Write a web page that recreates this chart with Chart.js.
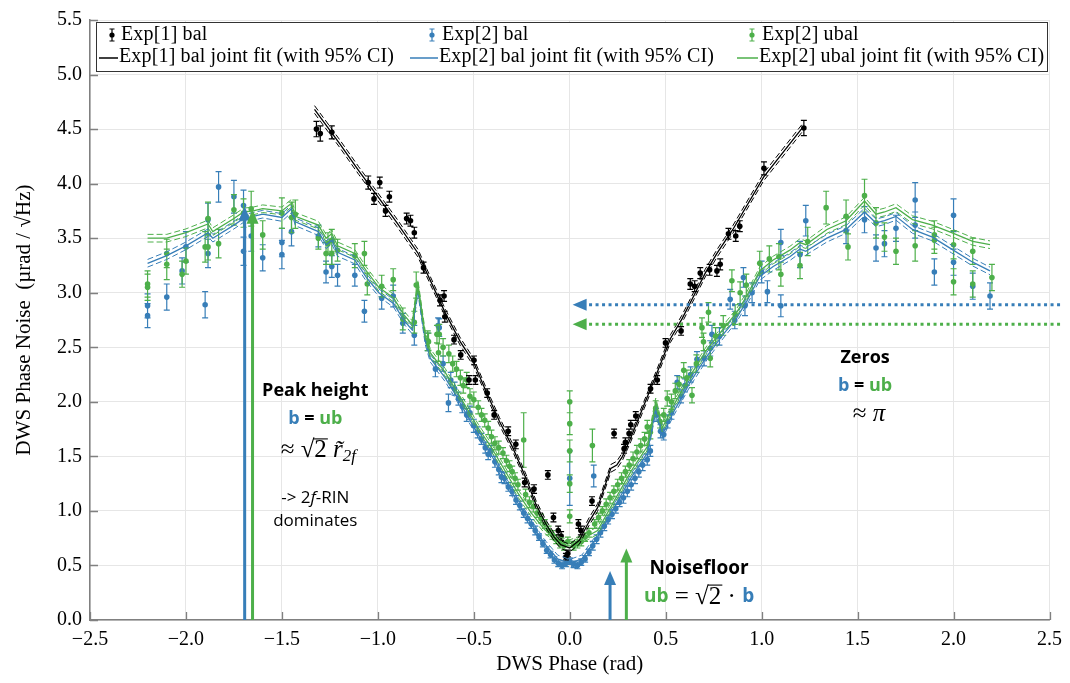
<!DOCTYPE html>
<html>
<head>
<meta charset="utf-8">
<script src="https://cdn.jsdelivr.net/npm/chart.js@4/dist/chart.umd.min.js"></script>
<style>
  html, body { margin: 0; padding: 0; background: #fff; }
  #wrap { width: 1070px; height: 683px; }
</style>
</head>
<body>
<div id="wrap"><canvas id="chart" width="1070" height="683"></canvas></div>
<script>
// axis ranges
const xRange = [-2.5, 2.5];
const yRange = [0, 5.5];

// Exp[1] bal: [phase, noise, error]
const exp1Bal = [
  [-1.32,4.50,.07],[-1.30,4.46,.07],[-1.24,4.47,.06],[-1.05,4.01,.06],[-1.02,3.86,.05],[-0.99,4.01,.05],
  [-0.96,3.75,.05],[-0.94,3.88,.05],[-0.85,3.68,.05],[-0.83,3.66,.05],[-0.81,3.55,.05],[-0.762,3.23,.05],
  [-0.676,2.93,.05],[-0.655,2.97,.05],[-0.651,2.78,.05],[-0.603,2.57,.04],[-0.568,2.43,.04],[-0.499,2.38,.04],
  [-0.525,2.20,.04],[-0.492,2.20,.04],[-0.43,2.08,.04],[-0.394,1.88,.04],[-0.321,1.73,.04],[-0.281,1.61,.04],
  [-0.235,1.26,.04],[-0.186,1.20,.04],[-0.114,1.33,.04],[-0.085,0.94,.04],[-0.06,0.82,.04],[-0.045,0.77,.04],
  [-0.02,0.58,.03],[-0.01,0.61,.03],[0.045,0.88,.04],[0.058,0.82,.04],[0.116,1.09,.04],[0.231,1.71,.04],
  [0.283,1.57,.04],[0.29,1.63,.04],[0.309,1.71,.04],[0.318,1.79,.04],[0.344,1.87,.04],[0.421,2.12,.04],
  [0.456,2.20,.04],[0.499,2.54,.04],[0.58,2.65,.04],[0.628,3.08,.05],[0.651,3.06,.05],[0.68,3.18,.05],
  [0.729,3.21,.05],[0.767,3.20,.05],[0.784,3.26,.05],[0.827,3.54,.05],[0.865,3.52,.05],[0.886,3.61,.05],
  [1.012,4.14,.06],[1.22,4.51,.07]
];

// Exp[2] bal
const exp2Bal = [
  [-2.20,2.79,.11],[-2.20,2.88,.11],[-2.10,2.96,.12],[-2.02,3.20,.12],[-2.00,3.42,.14],[-1.90,2.89,.12],
  [-1.885,3.67,.15],[-1.885,3.36,.13],[-1.83,3.97,.14],[-1.75,3.88,.15],[-1.70,3.80,.14],[-1.70,3.38,.13],
  [-1.66,3.52,.14],[-1.60,3.32,.12],[-1.50,3.35,.13],[-1.50,3.46,.13],[-1.45,3.56,.13],[-1.31,3.52,.10],
  [-1.27,3.19,.10],[-1.24,3.24,.10],[-1.21,3.16,.10],[-1.12,3.16,.10],[-1.07,2.83,.10],[-0.98,2.95,.10],
  [-0.92,2.97,.10],[-0.87,2.72,.09],[-0.81,2.61,.09],[-0.74,2.55,.08],[-0.68,2.68,.08],
  [-0.686,2.70,.07],[-0.70,2.30,.07],[-0.66,2.35,.07],[-0.632,1.99,.08],[-0.62,2.20,.07],[-0.60,2.12,.06],
  [-0.58,2.03,.06],[-0.56,1.96,.06],[-0.537,1.88,.06],[-0.52,1.90,.06],[-0.50,1.78,.06],[-0.48,1.72,.05],
  [-0.46,1.66,.05],[-0.44,1.58,.05],[-0.425,1.52,.05],[-0.41,1.55,.05],[-0.39,1.45,.05],[-0.37,1.38,.05],
  [-0.356,1.31,.05],[-0.34,1.30,.05],[-0.32,1.22,.04],[-0.30,1.18,.04],[-0.28,1.10,.04],[-0.26,1.05,.04],
  [-0.24,0.98,.04],[-0.22,0.93,.04],[-0.20,0.88,.04],[-0.18,0.82,.04],[-0.16,0.76,.03],[-0.14,0.70,.03],
  [-0.12,0.64,.03],[-0.10,0.60,.03],[-0.08,0.55,.03],[-0.06,0.52,.03],[-0.04,0.50,.03],[-0.02,0.52,.03],
  [0.00,0.54,.03],[0.00,1.30,.25],
  [0.02,0.51,.03],[0.04,0.50,.03],[0.06,0.53,.03],[0.08,0.56,.03],[0.10,0.62,.03],[0.12,0.68,.04],
  [0.125,1.32,.10],[0.14,0.74,.04],[0.16,0.80,.04],[0.18,0.86,.04],[0.20,0.92,.04],[0.22,0.97,.04],
  [0.24,1.02,.04],[0.26,1.08,.04],[0.28,1.12,.05],[0.30,1.18,.05],[0.32,1.24,.05],[0.34,1.30,.05],
  [0.36,1.36,.05],[0.38,1.42,.05],[0.404,1.47,.05],[0.42,1.55,.05],[0.45,1.88,.06],[0.473,1.73,.06],
  [0.49,1.70,.05],[0.51,1.82,.06],[0.53,1.90,.06],[0.56,2.18,.06],[0.58,2.05,.06],[0.60,2.15,.06],
  [0.63,2.25,.07],[0.663,2.39,.07],[0.70,2.40,.07],[0.732,2.49,.07],[0.741,2.62,.08],[0.78,2.60,.08],
  [0.836,2.94,.09],[0.86,2.75,.08],[0.905,3.14,.09],[0.913,2.88,.09],[0.95,3.00,.09],[1.00,3.19,.10],
  [1.03,3.01,.10],[1.10,3.46,.12],[1.10,2.88,.10],[1.20,3.35,.12],[1.23,3.66,.14],[1.44,3.57,.12],
  [1.536,3.67,.12],[1.596,3.41,.12],[1.64,3.45,.12],[1.70,3.59,.12],[1.80,3.85,.16],[1.80,3.62,.12],
  [1.90,3.19,.12],[2.00,3.71,.15],[2.00,3.28,.12],[2.10,3.06,.12],[2.19,2.97,.12]
];

// Exp[2] ubal
const exp2Ubal = [
  [-2.20,3.08,.12],[-2.20,3.05,.12],[-2.10,3.26,.14],[-2.10,3.36,.13],[-2.02,3.17,.12],[-2.00,3.29,.12],
  [-1.90,3.42,.14],[-1.885,3.68,.15],[-1.885,3.42,.12],[-1.83,3.45,.13],[-1.75,3.76,.14],[-1.70,3.73,.13],
  [-1.66,3.77,.16],[-1.60,3.53,.13],[-1.50,3.73,.14],[-1.45,3.69,.14],[-1.43,3.72,.13],[-1.31,3.50,.10],
  [-1.27,3.36,.10],[-1.26,3.45,.10],[-1.24,3.48,.10],[-1.24,3.36,.10],[-1.21,3.39,.10],[-1.12,3.34,.11],
  [-1.07,3.36,.11],[-1.055,3.08,.10],[-0.98,3.06,.10],[-0.92,3.12,.10],[-0.87,2.76,.10],[-0.81,2.73,.10],
  [-0.80,3.07,.12],[-0.74,2.56,.09],[-0.68,2.62,.09],
  [-0.736,2.55,.08],[-0.692,2.62,.08],[-0.684,2.45,.08],[-0.66,2.50,.08],[-0.63,2.44,.08],[-0.61,2.35,.07],
  [-0.59,2.30,.07],[-0.57,2.22,.07],[-0.555,2.15,.07],[-0.537,2.20,.07],[-0.52,2.05,.07],[-0.50,2.02,.07],
  [-0.477,1.95,.06],[-0.46,1.88,.06],[-0.443,1.83,.06],[-0.425,1.76,.06],[-0.408,1.68,.06],[-0.39,1.62,.06],
  [-0.37,1.58,.06],[-0.348,1.53,.05],[-0.33,1.46,.05],[-0.314,1.41,.05],[-0.30,1.36,.05],[-0.285,1.30,.05],
  [-0.27,1.24,.05],[-0.24,1.65,.25],[-0.23,1.15,.05],[-0.21,1.08,.05],[-0.19,1.04,.05],[-0.17,0.98,.04],
  [-0.15,0.93,.04],[-0.13,0.88,.04],[-0.11,0.82,.04],[-0.09,0.78,.04],[-0.07,0.74,.04],[-0.05,0.70,.04],
  [-0.03,0.68,.04],[-0.01,0.72,.04],[0.00,2.00,.10],[0.00,1.80,.10],[0.00,1.55,.10],[0.00,1.25,.08],
  [0.00,0.95,.06],
  [0.02,0.68,.04],[0.04,0.70,.04],[0.06,0.72,.04],[0.08,0.76,.04],[0.10,0.80,.04],[0.118,1.60,.15],
  [0.13,0.88,.04],[0.15,0.94,.04],[0.17,1.00,.04],[0.19,1.06,.05],[0.21,1.12,.05],[0.23,1.18,.05],
  [0.25,1.24,.05],[0.27,1.30,.05],[0.29,1.36,.05],[0.31,1.42,.05],[0.33,1.48,.06],[0.35,1.54,.06],
  [0.37,1.60,.06],[0.39,1.66,.06],[0.404,1.77,.06],[0.42,1.72,.06],[0.448,1.94,.07],[0.47,1.82,.06],
  [0.49,1.88,.06],[0.508,2.03,.07],[0.53,2.00,.07],[0.55,2.10,.07],[0.57,2.16,.07],[0.594,2.29,.07],
  [0.61,2.22,.07],[0.637,2.06,.07],[0.66,2.35,.08],[0.689,2.68,.09],[0.697,2.55,.08],[0.723,2.82,.09],
  [0.732,2.40,.08],[0.76,2.60,.08],[0.80,2.70,.09],[0.845,3.11,.10],[0.862,2.80,.09],[0.888,3.00,.10],
  [0.92,3.07,.10],[0.99,3.27,.11],[1.04,3.31,.12],[1.09,3.33,.12],[1.10,3.17,.11],[1.20,3.25,.12],
  [1.24,3.47,.13],[1.336,3.78,.15],[1.44,3.70,.15],[1.45,3.42,.12],[1.536,3.89,.15],[1.596,3.64,.14],
  [1.64,3.51,.13],[1.70,3.38,.12],[1.80,3.43,.14],[1.90,3.53,.13],[1.90,3.48,.12],[2.00,3.44,.13],
  [2.00,3.10,.12],[2.10,3.38,.12],[2.10,3.08,.12],[2.20,3.14,.12]
];

// joint fits [phase, noise]
const exp1Fit = [
  [-1.33,4.68],[-1.20,4.37],[-1.10,4.12],[-1.00,3.88],[-0.90,3.64],[-0.79,3.36],[-0.76,3.24],[-0.65,2.82],
  [-0.57,2.55],[-0.50,2.36],[-0.435,2.09],[-0.366,1.82],[-0.297,1.58],[-0.228,1.30],[-0.176,1.06],
  [-0.124,0.88],[-0.081,0.76],[-0.047,0.69],[0.00,0.66],[0.05,0.73],[0.10,0.90],[0.145,1.03],[0.214,1.39],
  [0.245,1.42],[0.275,1.50],[0.318,1.67],[0.387,1.97],[0.456,2.27],[0.525,2.58],[0.585,2.76],[0.646,2.97],
  [0.706,3.18],[0.767,3.36],[0.85,3.58],[1.01,4.06],[1.216,4.52]
];
const fitPhase2 = [-2.20,-2.10,-2.00,-1.885,-1.86,-1.75,-1.70,-1.65,-1.60,-1.50,-1.45,-1.43,-1.31,-1.27,-1.24,
  -1.21,-1.12,-1.06,-0.995,-0.917,-0.865,-0.822,-0.791,-0.753,-0.727,-0.649,-0.597,-0.546,-0.477,-0.408,
  -0.338,-0.269,-0.20,-0.131,-0.063,0.00,0.063,0.145,0.231,0.318,0.404,0.448,0.482,0.542,0.628,0.715,0.801,
  0.87,0.922,0.99,1.06,1.147,1.20,1.23,1.34,1.44,1.536,1.596,1.64,1.70,1.786,1.89,1.99,2.10,2.19];
const exp2BalFit = [3.27,3.34,3.43,3.55,3.50,3.62,3.68,3.70,3.72,3.69,3.77,3.65,3.56,3.44,3.48,
  3.37,3.30,3.14,3.00,2.90,2.75,2.66,3.03,2.56,2.40,2.22,2.07,1.91,1.70,1.51,
  1.29,1.07,0.88,0.70,0.56,0.52,0.56,0.76,1.03,1.30,1.53,1.94,1.70,1.91,2.18,2.42,2.62,
  2.77,2.92,3.15,3.24,3.33,3.40,3.38,3.50,3.58,3.74,3.64,3.66,3.70,3.58,3.51,3.40,3.28,3.20];
const exp2UbalFit = [3.50,3.50,3.55,3.63,3.56,3.68,3.74,3.75,3.77,3.75,3.82,3.70,3.62,3.50,3.54,
  3.43,3.36,3.20,3.05,2.95,2.80,2.71,3.08,2.61,2.45,2.27,2.12,1.97,1.76,1.58,
  1.37,1.16,0.98,0.83,0.73,0.70,0.74,0.82,1.09,1.36,1.59,2.00,1.76,1.97,2.24,2.48,2.67,
  2.82,2.97,3.20,3.30,3.39,3.46,3.44,3.58,3.66,3.84,3.72,3.74,3.78,3.67,3.62,3.55,3.47,3.44];
// 95% CI half widths
const exp1CI = 0.035;
const exp2BalCI = 0.035;
const exp2UbalCI = 0.035;

// annotation arrows
const peakArrows = [{ x: -1.694, top: 3.79, c: 'blue' }, { x: -1.653, top: 3.76, c: 'green' }];
const zeroArrows = [{ y: 2.89, from: 2.555, tip: 0.015, c: 'blue' }, { y: 2.71, from: 2.555, tip: 0.015, c: 'green' }];
const floorArrows = [{ x: 0.21, top: 0.45, c: 'blue' }, { x: 0.295, top: 0.655, c: 'green' }];

const legendRow1 = ['Exp[1] bal', 'Exp[2] bal', 'Exp[2] ubal'];
const legendRow2 = ['Exp[1] bal joint fit (with 95% CI)', 'Exp[2] bal joint fit (with 95% CI)', 'Exp[2] ubal joint fit (with 95% CI)'];

const COLORS = { black: '#000000', blue: '#377eb8', green: '#4daf4a' };
const SERIF = '"Liberation Serif", "DejaVu Serif", serif';
const SANS = '"Open Sans", "Noto Sans", sans-serif';

const fmt = v => (v < 0 ? '\u2212' : '') + Math.abs(v).toFixed(1);

function pointSet(label, rows, color, order) {
  return {
    label: label,
    type: 'scatter',
    data: rows.map(r => ({ x: r[0], y: r[1] })),
    errs: rows.map(r => r[2]),
    barColor: color,
    backgroundColor: color,
    borderWidth: 0,
    pointRadius: 2.8,
    order: order
  };
}

function fitSets(label, xs, ys, ci, color, order) {
  const mk = (off, dash, w) => ({
    label: label,
    type: 'line',
    data: xs.map((x, i) => ({ x: x, y: ys[i] + off })),
    borderColor: color,
    borderWidth: w,
    borderDash: dash,
    pointRadius: 0,
    fill: false,
    tension: 0,
    order: order
  });
  return [mk(0, [], 1.3), mk(ci, [6, 3], 1), mk(-ci, [6, 3], 1)];
}

const errorBarPlugin = {
  id: 'errorBars',
  beforeDatasetDraw(chart, args) {
    const ds = chart.data.datasets[args.index];
    if (!ds.errs) return;
    const { ctx, chartArea, scales: { x, y } } = chart;
    ctx.save();
    ctx.beginPath();
    ctx.rect(chartArea.left, chartArea.top, chartArea.width, chartArea.height);
    ctx.clip();
    ctx.strokeStyle = ds.barColor;
    ctx.lineWidth = 1.2;
    ctx.beginPath();
    ds.data.forEach((p, i) => {
      const e = ds.errs[i];
      const px = x.getPixelForValue(p.x);
      const y1 = y.getPixelForValue(p.y - e);
      const y2 = y.getPixelForValue(p.y + e);
      ctx.moveTo(px, y1); ctx.lineTo(px, y2);
      ctx.moveTo(px - 3, y1); ctx.lineTo(px + 3, y1);
      ctx.moveTo(px - 3, y2); ctx.lineTo(px + 3, y2);
    });
    ctx.stroke();
    ctx.restore();
  }
};

// inward tick marks on left and bottom axes
const tickPlugin = {
  id: 'innerTicks',
  afterDraw(chart) {
    const { ctx, chartArea: a, scales: { x, y } } = chart;
    ctx.save();
    ctx.strokeStyle = '#808080';
    ctx.lineWidth = 1.3;
    ctx.beginPath();
    x.ticks.forEach(t => {
      const px = Math.round(x.getPixelForValue(t.value)) + 0.5;
      ctx.moveTo(px, a.bottom); ctx.lineTo(px, a.bottom - 8);
    });
    y.ticks.forEach(t => {
      const py = Math.round(y.getPixelForValue(t.value)) + 0.5;
      ctx.moveTo(a.left, py); ctx.lineTo(a.left + 8, py);
    });
    ctx.stroke();
    ctx.restore();
  }
};

function arrowHead(ctx, tx, ty, dir, len, half) {
  // dir: 'up' or 'left'
  ctx.beginPath();
  if (dir === 'up') {
    ctx.moveTo(tx, ty); ctx.lineTo(tx - half, ty + len); ctx.lineTo(tx + half, ty + len);
  } else {
    ctx.moveTo(tx, ty); ctx.lineTo(tx + len, ty - half); ctx.lineTo(tx + len, ty + half);
  }
  ctx.closePath();
  ctx.fill();
}

function drawParts(ctx, parts, cx, cy) {
  let total = 0;
  parts.forEach(p => { ctx.font = p.f; total += ctx.measureText(p.t).width; });
  let xx = cx - total / 2;
  parts.forEach(p => {
    ctx.font = p.f;
    ctx.fillStyle = p.c || '#000';
    const w = ctx.measureText(p.t).width;
    ctx.fillText(p.t, xx, cy + (p.dy || 0));
    if (p.over) {
      ctx.strokeStyle = p.c || '#000';
      ctx.lineWidth = 1.1;
      ctx.beginPath();
      ctx.moveTo(xx - 1, cy - 12); ctx.lineTo(xx + w + 1, cy - 12);
      ctx.stroke();
    }
    xx += w;
  });
}

const annotationPlugin = {
  id: 'annotations',
  afterDatasetsDraw(chart) {
    const { ctx, scales: { x, y } } = chart;
    ctx.save();
    // vertical arrows
    peakArrows.concat(floorArrows).forEach(a => {
      const px = x.getPixelForValue(a.x);
      const y0 = y.getPixelForValue(0);
      const yt = y.getPixelForValue(a.top);
      ctx.strokeStyle = COLORS[a.c];
      ctx.fillStyle = COLORS[a.c];
      ctx.lineWidth = 3;
      ctx.setLineDash([]);
      ctx.beginPath(); ctx.moveTo(px, y0); ctx.lineTo(px, yt + 10); ctx.stroke();
      arrowHead(ctx, px, yt, 'up', 14, 6);
    });
    // horizontal dotted arrows
    zeroArrows.forEach(a => {
      const py = y.getPixelForValue(a.y);
      const x1 = x.getPixelForValue(a.from);
      const xt = x.getPixelForValue(a.tip);
      ctx.strokeStyle = COLORS[a.c];
      ctx.fillStyle = COLORS[a.c];
      ctx.lineWidth = 3;
      ctx.setLineDash([3, 3.5]);
      ctx.beginPath(); ctx.moveTo(x1, py); ctx.lineTo(xt + 12, py); ctx.stroke();
      ctx.setLineDash([]);
      arrowHead(ctx, xt, py, 'left', 14, 6);
    });

    ctx.textBaseline = 'middle';
    const bold = '700 18px ' + SANS;
    const reg = '400 17px ' + SANS;
    const math = '400 25px ' + SERIF;
    const mathIt = 'italic 400 25px ' + SERIF;
    const sub = 'italic 400 17px ' + SERIF;
    const bEq = [{ t: 'b', f: bold, c: COLORS.blue }, { t: ' = ', f: bold }, { t: 'ub', f: bold, c: COLORS.green }];

    const px = v => x.getPixelForValue(v);
    const py = v => y.getPixelForValue(v);

    // Peak height block
    drawParts(ctx, [{ t: 'Peak height', f: bold }], px(-1.326), py(2.10));
    drawParts(ctx, bEq, px(-1.326), py(1.84));
    drawParts(ctx, [{ t: '\u2248 ', f: math }, { t: '\u221A', f: math }, { t: '2', f: math, over: true },
      { t: ' r\u0303', f: mathIt }, { t: '2f', f: sub, dy: 6 }], px(-1.31), py(1.55));
    drawParts(ctx, [{ t: '-> 2', f: reg }, { t: 'f', f: 'italic ' + reg }, { t: '-RIN', f: reg }], px(-1.326), py(1.12));
    drawParts(ctx, [{ t: 'dominates', f: reg }], px(-1.326), py(0.91));

    // Zeros block
    drawParts(ctx, [{ t: 'Zeros', f: bold }], px(1.539), py(2.40));
    drawParts(ctx, bEq, px(1.539), py(2.15));
    drawParts(ctx, [{ t: '\u2248 ', f: math }, { t: '\u03C0', f: mathIt }], px(1.56), py(1.88));

    // Noisefloor block
    drawParts(ctx, [{ t: 'Noisefloor', f: '700 19px ' + SANS }], px(0.674), py(0.47));
    drawParts(ctx, [{ t: 'ub', f: '700 19px ' + SANS, c: COLORS.green }, { t: ' = ', f: math },
      { t: '\u221A', f: math }, { t: '2', f: math, over: true }, { t: ' \u00B7 ', f: math },
      { t: 'b', f: '700 19px ' + SANS, c: COLORS.blue }], px(0.674), py(0.21));
    ctx.restore();
  }
};

const legendPlugin = {
  id: 'boxLegend',
  afterDraw(chart) {
    const ctx = chart.ctx;
    ctx.save();
    ctx.fillStyle = '#fff';
    ctx.fillRect(96, 22, 951, 49);
    ctx.strokeStyle = '#333';
    ctx.lineWidth = 1;
    ctx.strokeRect(96.5, 22.5, 951, 49);
    const cols = [COLORS.black, COLORS.blue, COLORS.green];
    const markX = [112, 432, 752];
    const lineX = [99, 410, 737];
    const textX1 = [121, 442, 762];
    const textX2 = [119, 439, 759];
    ctx.font = '400 20px ' + SERIF;
    ctx.letterSpacing = '0.15px';
    ctx.textBaseline = 'middle';
    legendRow1.forEach((t, i) => {
      const c = cols[i];
      ctx.strokeStyle = c; ctx.fillStyle = c; ctx.lineWidth = 1.2;
      ctx.beginPath();
      ctx.moveTo(markX[i], 29); ctx.lineTo(markX[i], 41);
      ctx.moveTo(markX[i] - 2.5, 29); ctx.lineTo(markX[i] + 2.5, 29);
      ctx.moveTo(markX[i] - 2.5, 41); ctx.lineTo(markX[i] + 2.5, 41);
      ctx.stroke();
      ctx.beginPath(); ctx.arc(markX[i], 35, 2.6, 0, Math.PI * 2); ctx.fill();
      ctx.fillStyle = '#000';
      ctx.fillText(t, textX1[i], 35);
    });
    legendRow2.forEach((t, i) => {
      ctx.strokeStyle = cols[i]; ctx.lineWidth = 1.5;
      ctx.beginPath(); ctx.moveTo(lineX[i], 58); ctx.lineTo(textX2[i] - 1, 58); ctx.stroke();
      ctx.fillStyle = '#000';
      ctx.fillText(t, textX2[i], 57);
    });
    ctx.restore();
  }
};

const datasets = [
  ...fitSets('Exp[1] bal joint fit (with 95% CI)', exp1Fit.map(r => r[0]), exp1Fit.map(r => r[1]), exp1CI, COLORS.black, 1),
  ...fitSets('Exp[2] ubal joint fit (with 95% CI)', fitPhase2, exp2UbalFit, exp2UbalCI, COLORS.green, 2),
  ...fitSets('Exp[2] bal joint fit (with 95% CI)', fitPhase2, exp2BalFit, exp2BalCI, COLORS.blue, 3),
  pointSet('Exp[1] bal', exp1Bal, COLORS.black, 4),
  pointSet('Exp[2] ubal', exp2Ubal, COLORS.green, 5),
  pointSet('Exp[2] bal', exp2Bal, COLORS.blue, 6)
];

new Chart(document.getElementById('chart'), {
  type: 'scatter',
  data: { datasets: datasets },
  plugins: [errorBarPlugin, tickPlugin, annotationPlugin, legendPlugin],
  options: {
    responsive: false,
    animation: false,
    devicePixelRatio: 1,
    layout: { padding: { top: 15, right: 16, left: 0, bottom: 0 } },
    plugins: { legend: { display: false }, tooltip: { enabled: false } },
    scales: {
      x: {
        type: 'linear',
        min: xRange[0], max: xRange[1],
        afterFit: s => { s.height = 63; },
        grid: { color: '#e6e6e6', drawTicks: false },
        border: { color: '#808080', width: 1.5 },
        ticks: { stepSize: 0.5, padding: 8, color: '#000', font: { family: SERIF, size: 20 }, callback: fmt },
        title: { display: true, text: 'DWS Phase (rad)', color: '#000', font: { family: SERIF, size: 21 }, padding: { top: 0, bottom: 6 } }
      },
      y: {
        type: 'linear',
        min: yRange[0], max: yRange[1],
        afterFit: s => { s.width = 90; },
        grid: { color: '#e6e6e6', drawTicks: false },
        border: { color: '#808080', width: 1.5 },
        ticks: { stepSize: 0.5, padding: 8, color: '#000', font: { family: SERIF, size: 20 }, callback: fmt },
        title: { display: true, text: 'DWS Phase Noise  (\u00B5rad / \u221AHz)', color: '#000', font: { family: SERIF, size: 21 }, padding: { top: 12, bottom: 0 } }
      }
    }
  }
});
</script>
</body>
</html>
